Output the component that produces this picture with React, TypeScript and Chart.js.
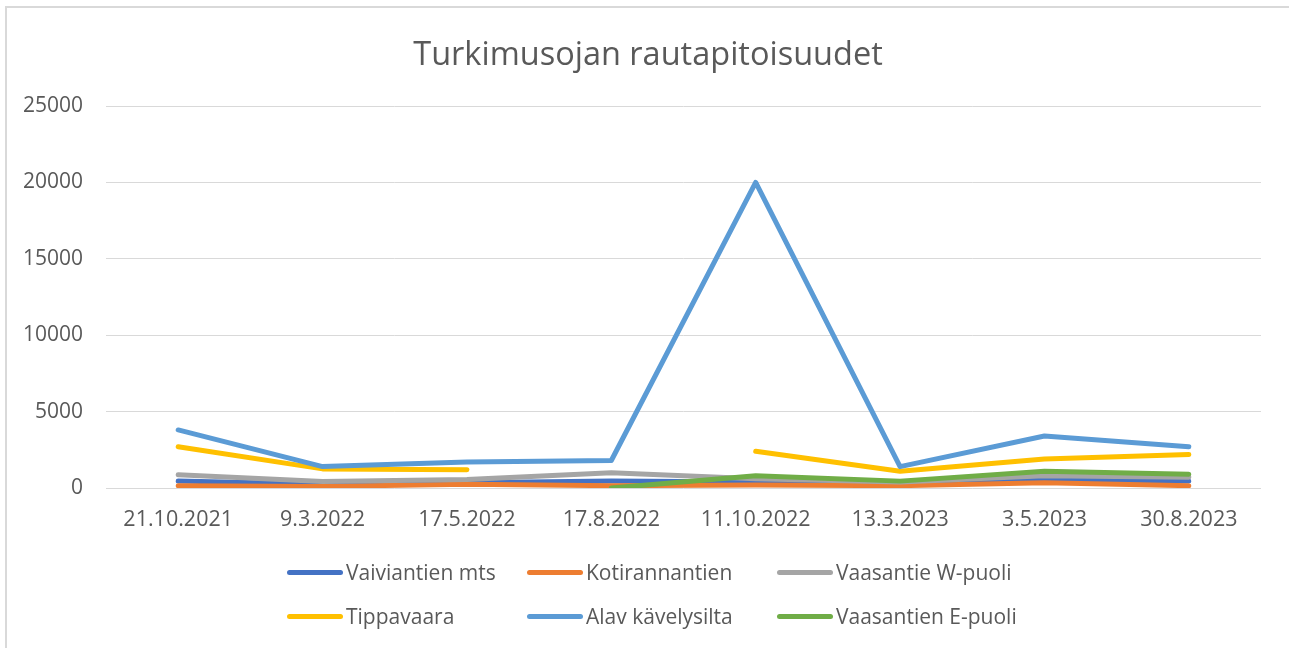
import React, { useEffect, useRef } from "react";
import { Chart, registerables } from "chart.js";

Chart.register(...registerables);

const categories = ["21.10.2021", "9.3.2022", "17.5.2022", "17.8.2022", "11.10.2022", "13.3.2023", "3.5.2023", "30.8.2023"];
const vaiviantienMts = [450, 250, 350, 450, 400, 300, 500, 450];
const kotirannantien = [150, 100, 250, 150, 200, 150, 350, 150];
const vaasantieW = [870, 430, 550, 1000, 600, 400, 800, 700];
const tippavaara = [2700, 1250, 1200, null, 2400, 1100, 1900, 2200];
const alavKavelysilta = [3800, 1400, 1700, 1800, 20000, 1400, 3400, 2700];
const vaasantienE = [null, null, null, 0, 800, 450, 1100, 900];
const yTicks = [0, 5000, 10000, 15000, 20000, 25000];

const titleText = "Turkimusojan rautapitoisuudet";
const seriesNames = ["Vaiviantien mts", "Kotirannantien", "Vaasantie W-puoli", "Tippavaara", "Alav kävelysilta", "Vaasantien E-puoli"];
const seriesColors = ["#4472C4", "#ED7D31", "#A5A5A5", "#FFC000", "#5B9BD5", "#70AD47"];
const seriesData = [vaiviantienMts, kotirannantien, vaasantieW, tippavaara, alavKavelysilta, vaasantienE];

const FONT = "'Open Sans', 'Noto Sans', sans-serif";
const TEXT = "#595959";

const legendPos = [
  { x: 287, y: 572 },
  { x: 527, y: 572 },
  { x: 777, y: 572 },
  { x: 287, y: 616 },
  { x: 527, y: 616 },
  { x: 777, y: 616 },
];

export default function App() {
  const ref = useRef<HTMLCanvasElement | null>(null);

  useEffect(() => {
    if (!ref.current) return;
    const chart = new Chart(ref.current, {
      type: "line",
      data: {
        labels: categories,
        datasets: seriesNames.map((name, i) => ({
          label: name,
          data: seriesData[i],
          borderColor: seriesColors[i],
          backgroundColor: seriesColors[i],
          borderWidth: 5,
          pointRadius: 0,
          pointHoverRadius: 0,
          borderCapStyle: "round",
          borderJoinStyle: "round",
          tension: 0,
          spanGaps: false,
          fill: false,
          order: seriesNames.length - i,
        })),
      },
      options: {
        responsive: false,
        animation: false,
        layout: { padding: { left: 0, right: 28, top: 106, bottom: 0 } },
        plugins: {
          legend: { display: false },
          tooltip: { enabled: false },
          title: { display: false },
        },
        scales: {
          x: {
            offset: true,
            grid: { display: false, drawTicks: false },
            border: { display: false },
            ticks: {
              color: TEXT,
              font: { family: FONT, size: 21.5 },
              padding: 19,
              maxRotation: 0,
              autoSkip: false,
            },
            afterFit: (scale: any) => {
              scale.height = 160;
            },
          },
          y: {
            min: 0,
            max: 25000,
            afterBuildTicks: (scale: any) => {
              scale.ticks = yTicks.map((v) => ({ value: v }));
            },
            grid: { color: "#d9d9d9", lineWidth: 1, drawTicks: false },
            border: { display: false },
            ticks: {
              color: TEXT,
              font: { family: FONT, size: 21 },
              padding: 23,
              callback: (v: any) => String(v),
            },
            afterFit: (scale: any) => {
              scale.width = 106;
            },
          },
        },
      },
    });
    return () => chart.destroy();
  }, []);

  return (
    <div style={{ position: "fixed", left: 0, top: 0, width: 1289, height: 648, background: "#fff", overflow: "hidden" }}>
      <div
        style={{
          position: "absolute",
          left: 5,
          top: 6,
          width: 1320,
          height: 680,
          border: "2px solid #d9d9d9",
          boxSizing: "border-box",
        }}
      />
      <canvas ref={ref} width={1289} height={648} style={{ position: "absolute", left: 0, top: 0, width: 1289, height: 648 }} />
      <div
        style={{
          position: "absolute",
          left: 0,
          width: 1296,
          top: 34,
          height: 38.4,
          lineHeight: "38.4px",
          textAlign: "center",
          fontFamily: FONT,
          fontSize: 32.5,
          color: TEXT,
          whiteSpace: "nowrap",
        }}
      >
        {titleText}
      </div>
      {seriesNames.map((name, i) => (
        <div
          key={name}
          style={{
            position: "absolute",
            left: legendPos[i].x,
            top: legendPos[i].y - 15,
            height: 30,
            display: "flex",
            alignItems: "center",
            fontFamily: FONT,
            fontSize: 21,
            color: TEXT,
            whiteSpace: "nowrap",
          }}
        >
          <span
            style={{
              display: "inline-block",
              width: 56,
              height: 5,
              borderRadius: 3,
              background: seriesColors[i],
              marginRight: 3,
            }}
          />
          <span>{name}</span>
        </div>
      ))}
    </div>
  );
}
